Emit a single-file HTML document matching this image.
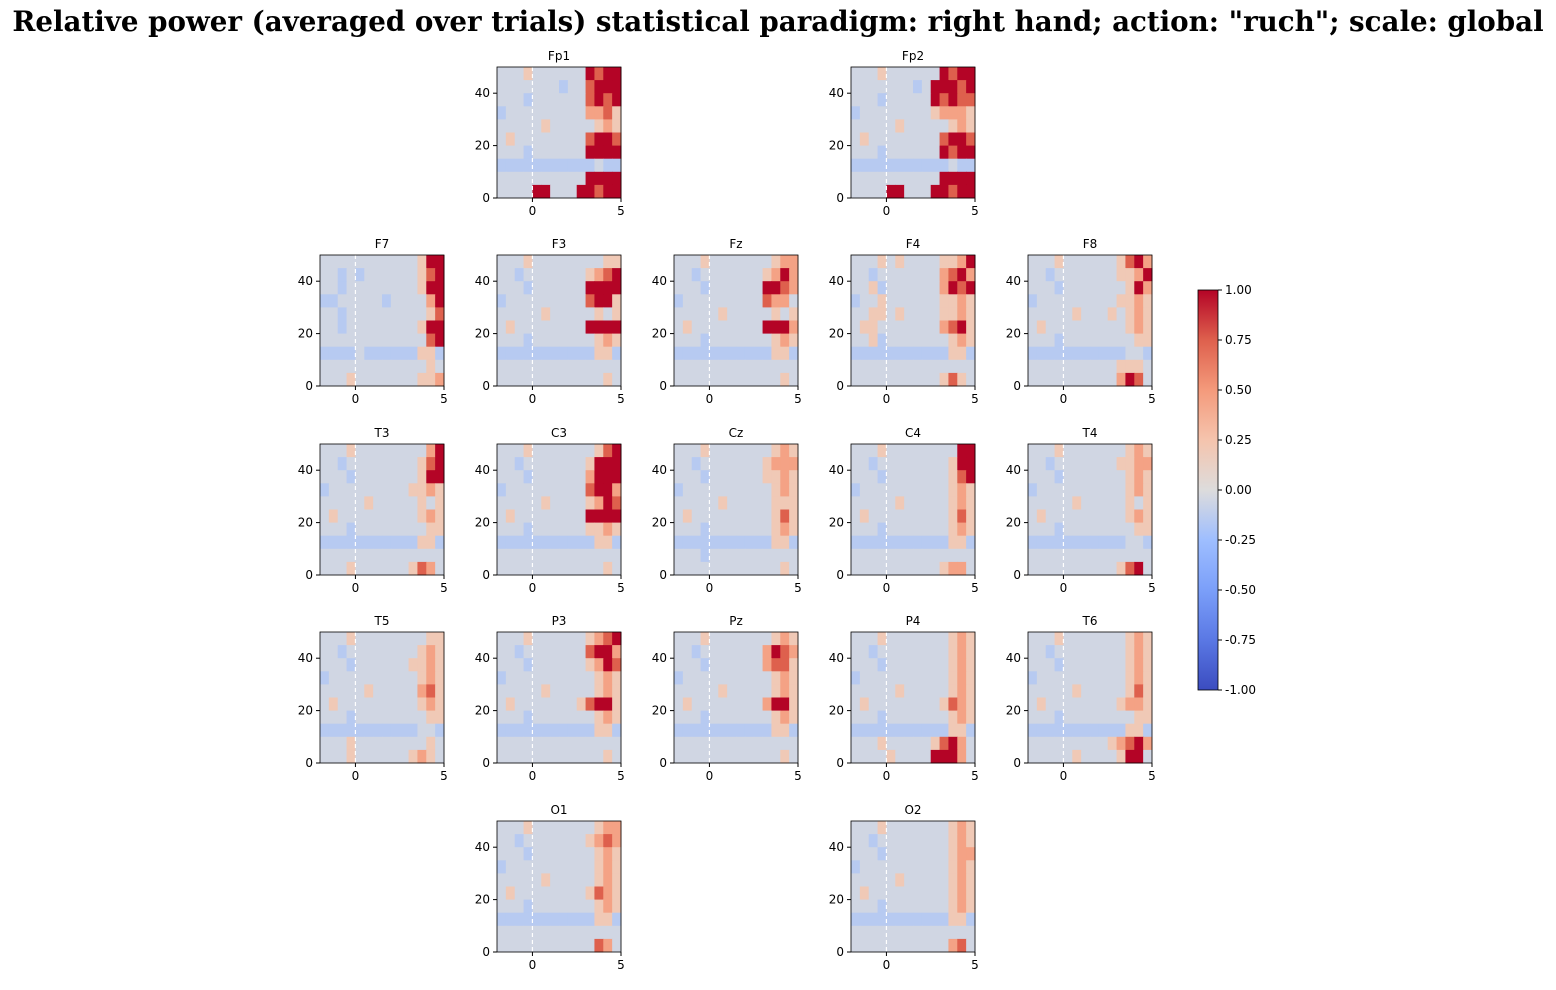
<!DOCTYPE html>
<html><head><meta charset="utf-8">
<style>
body{margin:0;background:#fff;}
svg text{font-family:"DejaVu Sans","Liberation Sans",sans-serif;}
</style></head>
<body>
<svg id="fig" width="1556" height="985" xmlns="http://www.w3.org/2000/svg">
<defs>
<linearGradient id="cbgrad" x1="0" y1="1" x2="0" y2="0">
<stop offset="0" stop-color="#3b4cc0"/><stop offset="0.125" stop-color="#5a78e4"/>
<stop offset="0.25" stop-color="#7b9ff9"/><stop offset="0.375" stop-color="#9ebeff"/>
<stop offset="0.5" stop-color="#dddcdc"/><stop offset="0.625" stop-color="#f5c4ad"/>
<stop offset="0.75" stop-color="#f49a7b"/><stop offset="0.875" stop-color="#de604d"/>
<stop offset="1" stop-color="#b40426"/>
</linearGradient>
</defs>
<text x="778" y="31" text-anchor="middle" style="font-family:'DejaVu Serif','Liberation Serif',serif;font-weight:bold;font-size:27.7px">Relative power (averaged over trials) statistical paradigm: right hand; action: "ruch"; scale: global</text>
<g id="plots"></g>
<g id="colorbar"></g>
</svg>
<script>
// data: rows from top (45-50 Hz) to bottom (0-5 Hz); 14 time columns (-2..5 s, 0.5 s each); digit d => level value
const channels=["Fp1","Fp2","F7","F3","Fz","F4","F8","T3","C3","Cz","C4","T4","T5","P3","Pz","P4","T6","O1","O2"];
const gridRow=[0,0,1,1,1,1,1,2,2,2,2,2,3,3,3,3,3,4,4];
const gridCol=[1,3,0,1,2,3,4,0,1,2,3,4,0,1,2,3,4,1,3];
const levels=[-1,-0.6,-0.35,-0.15,-0.05,0.2,0.45,0.75,1];
const values={
Fp1:["44454444448788","44444443447888","44434444447878","34444444446675","44444544444565","45444444447887","44434444448888","33333333333433","44444444448888","44448844488788"],
Fp2:["44454444448788","44444443488878","44434444487877","34444444456665","44444544444565","45444444447887","44434444448788","33333333333433","44444444448888","44448844488788"],
F7: ["44444444444588","44343444444578","44344444444588","33444443444468","44344444444457","44344444444588","44444444444478","33334333333553","44444444444454","44454444444556"],
F3: ["44454444444455","44344444445678","44434444448888","34444444447885","44444544444545","45444444448888","44434444444565","33333333333553","44444444444444","44444444444454"],
F4: ["44454544445568","44344444446786","44534444446878","34454444445565","44554544445565","45544444446785","44534444444565","33333333333553","44444444444444","44444444445754"],
Fz: ["44454444444566","44344444445686","44434444448876","34444444447664","44444544444545","45444444448886","44434444444565","33333333333553","44444444444444","44444444444454"],
F8: ["44454444445786","44344444445568","44434444444586","34444444445565","44444544454565","45444444444565","44434444444455","33333333333443","44444444445554","44444444446874"],
T3: ["44454444444468","44344444444578","44434444444588","34444444445565","44444544444545","45444444444565","44434444444455","33333333333553","44444444444444","44454444445764"],
C3: ["44454444444578","44344444445888","44434444446888","34444444447886","44444544445687","45444444448888","44434444445565","33333333333553","44444444444444","44444444444454"],
Cz: ["44454444444565","44344444445666","44434444445565","34444444444565","44444544444555","45444444444575","44434444444565","33333333333553","44434444444444","44444444444454"],
C4: ["44454444444488","44344444444588","44434444444578","34444444444565","44444544444565","45444444444575","44434444444565","33333333333553","44444444444444","44444444445664"],
T4: ["44454444444565","44344444445566","44434444444565","34444444444565","44444544444545","45444444444565","44434444444455","33333333333443","44444444444444","44444444445784"],
T5: ["44454444444455","44344444444565","44434444445565","34444444444565","44444544444675","45444444444565","44434444444455","33333333333443","44454444444454","44454444445654"],
P3: ["44454444445678","44344444447886","44434444445687","34444444444565","44444544444565","45444444457885","44434444444565","33333333333553","44444444444444","44444444444454"],
Pz: ["44454444444565","44344444446876","44434444446775","34444444444565","44444544444565","45444444446885","44434444444565","33333333333553","44444444444444","44444444444454"],
P4: ["44454444444565","44344444444565","44434444444565","34444444444565","44444544444565","45444444445765","44434444444565","33333333333553","44454444457864","44445444488864"],
T6: ["44454444444565","44344444444565","44434444444565","34444444444565","44444544444575","45444444445665","44434444444455","33333333333553","44444444456786","44444544445884"],
O1: ["44454444444566","44344444445676","44434444444565","34444444444565","44444544444565","45444444445765","44434444444565","33333333333553","44444444444444","44444444444764"],
O2: ["44454444444565","44344444444565","44434444444566","34444444444565","44444544444565","45444444444565","44434444444565","33333333333553","44444444444444","44444444444674"]
};
const xTicks=[0,5];
const yTicks=[0,20,40];
const cbTicks=[1,0.75,0.5,0.25,0,-0.25,-0.5,-0.75,-1];

const NS="http://www.w3.org/2000/svg";
function mk(tag,attrs,parent){const e=document.createElementNS(NS,tag);for(const k in attrs)e.setAttribute(k,attrs[k]);parent.appendChild(e);return e;}
const stops=[[59,76,192],[90,120,228],[123,159,249],[158,190,255],[221,220,220],[245,196,173],[244,154,123],[222,96,77],[180,4,38]];
function cmap(v){let t=(Math.max(-1,Math.min(1,v))+1)/2*8;const i=Math.min(7,Math.floor(t));const f=t-i;const a=stops[i],b=stops[i+1];
return `rgb(${Math.round(a[0]+(b[0]-a[0])*f)},${Math.round(a[1]+(b[1]-a[1])*f)},${Math.round(a[2]+(b[2]-a[2])*f)})`;}
const AW=124,AH=131;
const plots=document.getElementById('plots');
channels.forEach((ch,ci)=>{
  const x0=320+gridCol[ci]*177, y0=67+[0,188,377,565,754][gridRow[ci]];
  const xs=t=>x0+(t+2)/7*AW, ys=f=>y0+AH-f/50*AH;
  const g=mk('g',{},plots);
  
  
  const rows=values[ch];
  rows.forEach((r,ri)=>{
    const fTop=50-ri*5;
    for(let c=0;c<r.length;c++){
      const v=levels[parseInt(r[c])];
      const t0=-2+c*0.5;
      const rect=mk('rect',{x:xs(t0),y:ys(fTop),width:xs(t0+0.5)-xs(t0)+0.5,height:ys(fTop-5)-ys(fTop)+0.5,fill:cmap(v)},g);
      
      
    }
  });
  const zl=mk('line',{x1:xs(0),x2:xs(0),y1:y0,y2:y0+AH,stroke:'#fff','stroke-dasharray':'4,3','stroke-width':1.2},g);
  
  
  const fr=mk('rect',{x:x0,y:y0,width:AW,height:AH,fill:'none',stroke:'#000','stroke-width':0.8},g);
  
  
  const tt=mk('text',{x:x0+AW/2,y:y0-7,'text-anchor':'middle','font-size':12},g);tt.textContent=ch;
  
  
  xTicks.forEach(t=>{mk('line',{x1:xs(t),x2:xs(t),y1:y0+AH,y2:y0+AH+4,stroke:'#000'},g);
    const l=mk('text',{x:xs(t),y:y0+AH+17,'text-anchor':'middle','font-size':12},g);l.textContent=t;
    
    });
  yTicks.forEach(t=>{mk('line',{x1:x0-4,x2:x0,y1:ys(t),y2:ys(t),stroke:'#000'},g);
    const l=mk('text',{x:x0-7,y:ys(t)+4,'text-anchor':'end','font-size':12},g);l.textContent=t;
    
    });
});
const cb=document.getElementById('colorbar');
const cbx=1198,cby=290,cbw=20,cbh=400;
mk('rect',{x:cbx,y:cby,width:cbw,height:cbh,fill:'url(#cbgrad)',stroke:'#000','stroke-width':0.8},cb);
cbTicks.forEach(v=>{const y=cby+(1-v)/2*cbh;mk('line',{x1:cbx+cbw,x2:cbx+cbw+4,y1:y,y2:y,stroke:'#000'},cb);
  const l=mk('text',{x:cbx+cbw+7,y:y+4,'font-size':12},cb);l.textContent=v.toFixed(2);
  
  });
</script>
</body></html>
